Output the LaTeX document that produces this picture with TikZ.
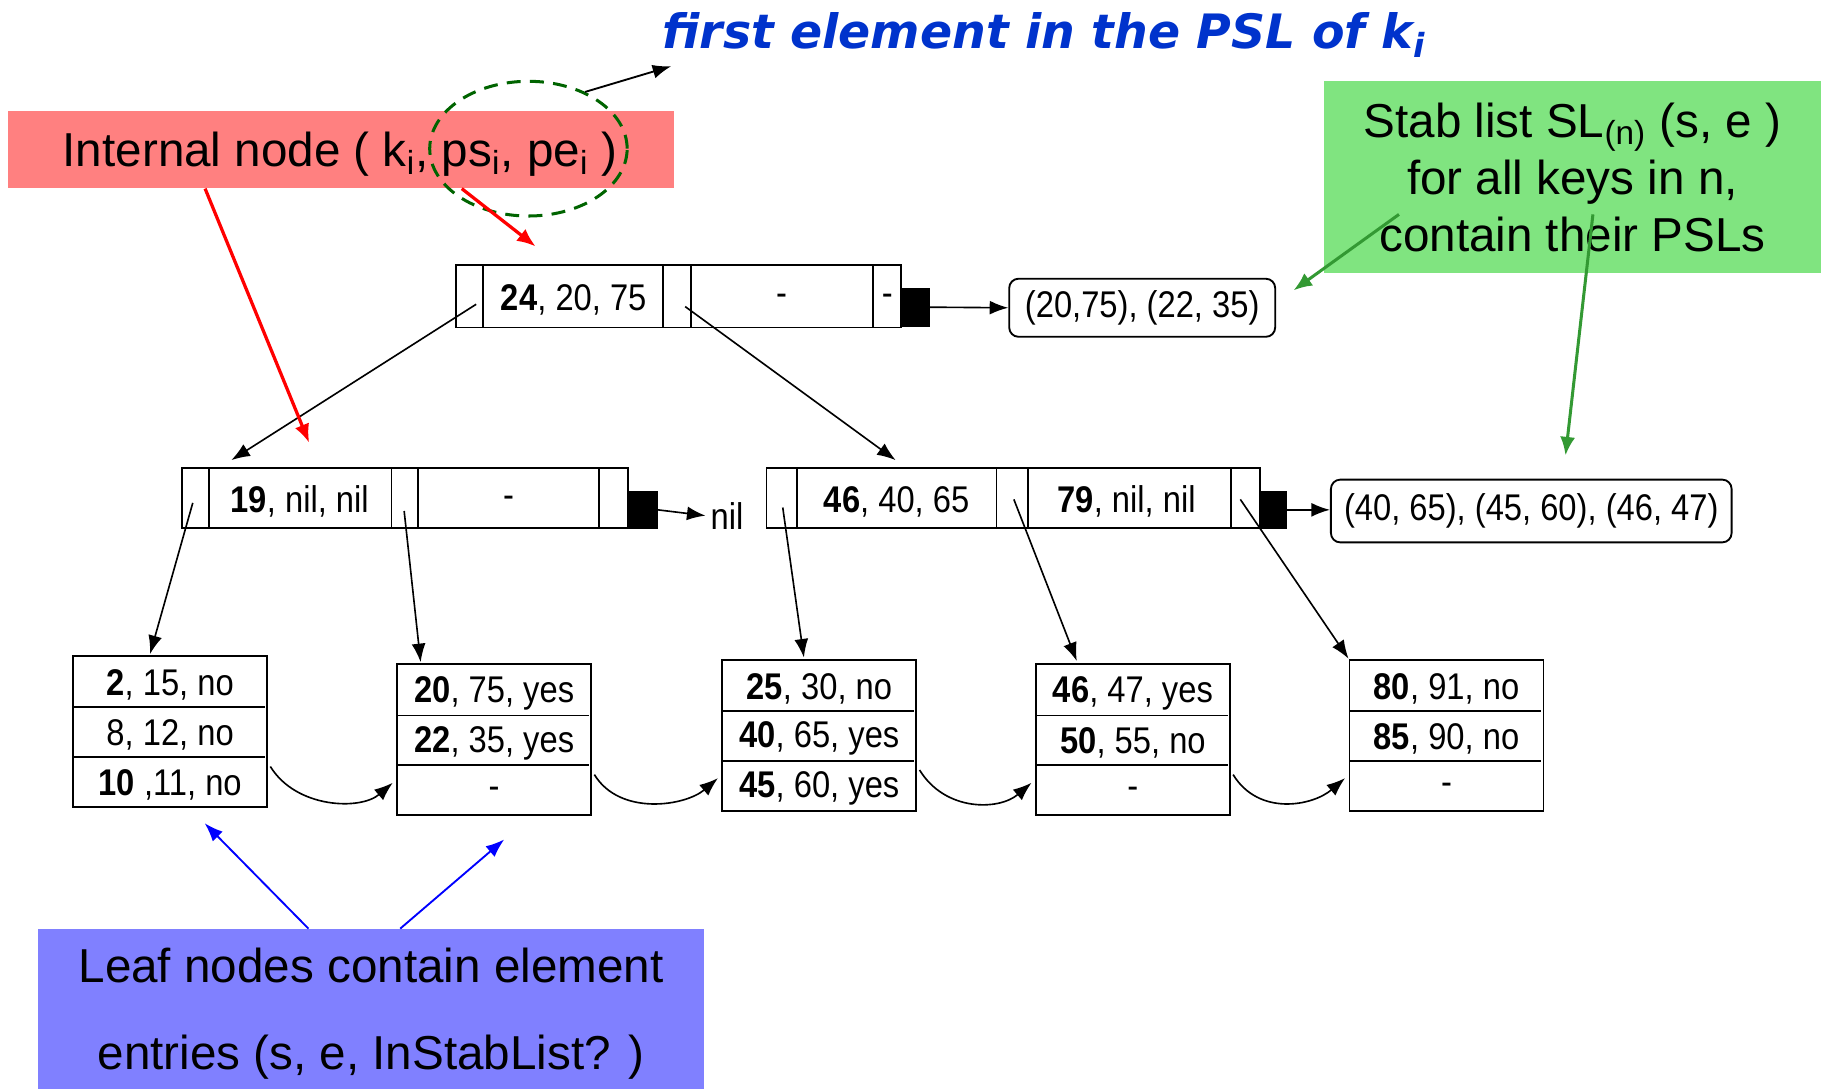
\documentclass[tikz,border=0pt]{standalone}
\usepackage{fontspec}
\setmainfont{Liberation Sans}
\newfontfamily\dfont[FakeStretch=0.88]{Liberation Sans}
\newfontfamily\titlefont{DejaVu Sans Bold Oblique}
\usetikzlibrary{arrows.meta,shapes.geometric,fit,calc}
\definecolor{redfill}{RGB}{255,128,128}
\definecolor{greenfill}{RGB}{128,228,128}
\definecolor{bluefill}{RGB}{128,128,255}
\definecolor{titleblue}{RGB}{0,51,204}
\definecolor{darkgreen}{RGB}{0,100,0}
\definecolor{arrowgreen}{RGB}{51,153,51}
\newcommand\leafnode[6]{%
  \node[cellbox, fit={(#2,#3)(#2+167,#3+130)}] (#1) {};
  \draw[cellline] (#2,#3+44) -- (#2+165,#3+44);
  \draw[cellline] (#2,#3+87) -- (#2+165,#3+87);
  \node[dtext] (#1a) at (#2+83.5,#3+25) {#4};
  \node[dtext] (#1b) at (#2+83.5,#3+68) {#5};
  \node[dtext] (#1c) at (#2+83.5,#3+111) {#6};
}
\begin{document}
\begin{tikzpicture}[x=0.5pt,y=-0.5pt,
  cellbox/.style={draw=black, line width=0.8pt, inner sep=0pt},
  cellline/.style={draw=black, line width=0.75pt},
  sqbox/.style={draw=black, fill=black, inner sep=0pt},
  dtext/.style={font={\dfont\fontsize{16pt}{19pt}\selectfont}, inner sep=1pt},
  slbox/.style={draw=black, line width=0.8pt, rounded corners=4pt, inner sep=0pt, font={\dfont\fontsize{16pt}{19pt}\selectfont}},
  lbl/.style={font={\fontsize{20.5pt}{24.5pt}\selectfont}},
  tree/.style={line width=0.7pt, -{Latex[length=8pt,width=6pt]}},
  redarr/.style={draw=red, line width=1.4pt, -{Latex[length=8pt,width=6.5pt]}},
  greenarr/.style={draw=arrowgreen, line width=1.3pt, -{Latex[length=8pt,width=6.5pt]}},
  bluearr/.style={draw=blue, line width=0.8pt, -{Latex[length=8pt,width=6pt]}},
  blackarr/.style={draw=black, line width=0.8pt, -{Latex[length=8pt,width=6pt]}}
]
\useasboundingbox (0,0) rectangle (1568,938);

% ---- annotation boxes
\node[fill=redfill, minimum width=286.5pt, minimum height=33pt, inner sep=0pt, lbl] (intl) at (293.5,129) {};
\node[lbl, inner sep=0pt] (intltext) at (293,133)
  {Internal node ( k\textsubscript{i}, ps\textsubscript{i}, pe\textsubscript{i} )};
\node[fill=greenfill, minimum width=214pt, minimum height=82.5pt, inner sep=0pt, align=center, lbl] (stab) at (1354,152.5)
  {Stab list SL\textsubscript{(n)} (s, e )\\for all keys in n,\\contain their PSLs};
\node[fill=bluefill, minimum width=286.5pt, minimum height=69pt, inner sep=0pt] (leafnote) at (319.5,869) {};
\node[align=center, inner sep=0pt, font={\fontsize{20.5pt}{37.5pt}\selectfont}] (leaftext) at (319.5,873)
  {Leaf nodes contain element\\entries (s, e, InStabList? )};
\node[font={\titlefont\fontsize{20.4pt}{24pt}\selectfont}, text=titleblue, anchor=base west, inner sep=0pt] (title) at (570,42)
  {first element in the PSL of k\textsubscript{i}};
\node[ellipse, draw=darkgreen, dash pattern=on 6pt off 4pt, line width=1.3pt,
  minimum width=85pt, minimum height=58pt, inner sep=0pt] (ell) at (455,128) {};

% ---- top internal node
\node[cellbox, fit={(393,228)(776,282)}] (top) {};
\foreach \x in {416,571,595,752} \draw[cellline] (\x,228) -- (\x,282);
\node[dtext] (top1) at (494,258) {\textbf{24}, 20, 75};
\node[dtext] (top2) at (673,258) {-};
\node[dtext] (top3) at (764,258) {-};
\node[sqbox, fit={(776,248)(800,281)}] (topsq) {};
\node[slbox, minimum width=114.5pt, minimum height=25pt] (sl1) at (983.5,265) {(20,75), (22, 35)};
\draw[tree] (topsq.east) -- (sl1.west);

% ---- left internal node
\node[cellbox, fit={(157,403)(541,455)}] (inL) {};
\foreach \x in {180,337,360,516} \draw[cellline] (\x,403) -- (\x,455);
\node[dtext] (inL1) at (258,432) {\textbf{19}, nil, nil};
\node[dtext] (inL2) at (438,432) {-};
\node[sqbox, fit={(541,423)(566,455)}] (sqL) {};
\node[dtext, inner sep=2pt] (nil) at (626,444) {nil};
\draw[tree] (sqL.east) -- (nil.west);

% ---- right internal node
\node[cellbox, fit={(660,403)(1085,455)}] (inR) {};
\foreach \x in {686,858,885,1060} \draw[cellline] (\x,403) -- (\x,455);
\node[dtext] (inR1) at (772,432) {\textbf{46}, 40, 65};
\node[dtext] (inR2) at (970,432) {\textbf{79}, nil, nil};
\node[sqbox, fit={(1085,423)(1108,455)}] (sqR) {};
\node[slbox, minimum width=172.5pt, minimum height=27pt] (sl2) at (1318.5,440) {(40, 65), (45, 60), (46, 47)};
\draw[tree] (sqR.east) -- (sqR.east -| sl2.west);

% ---- leaves
\leafnode{L1}{63}{565}{\textbf{2}, 15, no}{8, 12, no}{\textbf{10} ,11, no}
\leafnode{L2}{342}{572}{\textbf{20}, 75, yes}{\textbf{22}, 35, yes}{-}
\leafnode{L3}{622}{568}{\textbf{25}, 30, no}{\textbf{40}, 65, yes}{\textbf{45}, 60, yes}
\leafnode{L4}{892}{572}{\textbf{46}, 47, yes}{\textbf{50}, 55, no}{-}
\leafnode{L5}{1162}{568}{\textbf{80}, 91, no}{\textbf{85}, 90, no}{-}

% ---- tree pointers
\coordinate (p0) at (410,262);
\coordinate (p1) at (590,264);
\coordinate (q0) at (166,433);
\coordinate (q1) at (348,440);
\coordinate (r0) at (674,437);
\coordinate (r1) at (873,430);
\coordinate (r2) at (1068,430);
\draw[tree] (p0) -- ([shift={(43,-6)}]inL.north west);
\draw[tree] (p1) -- ([shift={(112,-6)}]inR.north west);
\draw[tree] (q0) -- ([shift={(67,-1)}]L1.north west);
\draw[tree] (q1) -- ([shift={(21,-1)}]L2.north west);
\draw[tree] (r0) -- ([shift={(71,-1)}]L3.north west);
\draw[tree] (r1) -- ([shift={(36,-2)}]L4.north west);
\draw[tree] (r2) -- (L5.north west);

% ---- leaf links
\foreach \a/\b in {L1/L2,L2/L3,L3/L4,L4/L5}{
  \coordinate (s\a) at ([shift={(2,30)}]\a.east);
  \coordinate (e\a) at ([shift={(-3,37)}]\b.west);
  \draw[tree] (s\a) .. controls ($(s\a)+(22,36)$) and ($(e\a)+(-28,24)$) .. (e\a);
}

% ---- annotation arrows
\draw[redarr] ([shift={(170,0)}]intl.south west) -- ([shift={(110,-21)}]inL.north west);
\draw[redarr] ([shift={(391,0)}]intl.south west) -- ([shift={(69,-15)}]top.north west);
\draw[blackarr] (ell.45) -- ([shift={(8,15)}]title.base west);
\draw[greenarr] ([shift={(65,115)}]stab.north west) -- ([shift={(15,-15)}]sl1.east);
\draw[greenarr] ([shift={(232,115)}]stab.north west) -- ([shift={(29.5,-20)}]sl2.north);
\draw[bluearr] ([shift={(233,0)}]leafnote.north west) -- ([shift={(114,13)}]L1.south west);
\draw[bluearr] ([shift={(312,0)}]leafnote.north west) -- ([shift={(93,20)}]L2.south west);
\end{tikzpicture}
\end{document}
